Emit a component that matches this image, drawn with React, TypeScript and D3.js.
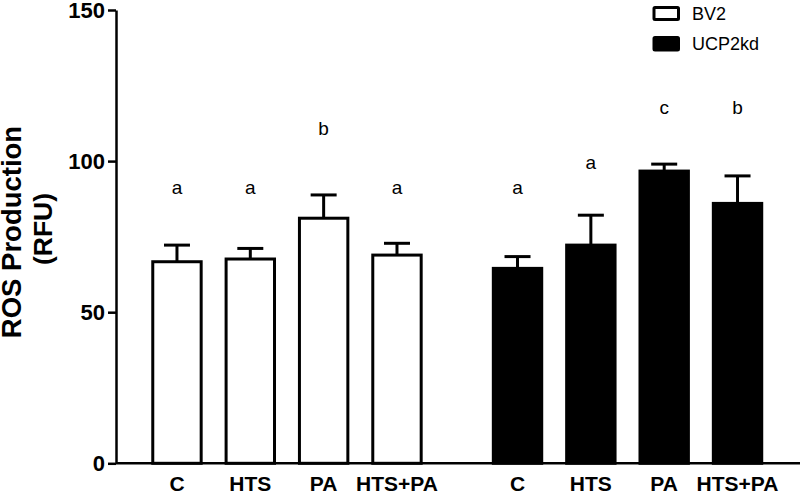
import { useEffect, useRef } from "react";
import * as d3 from "d3";

const width = 800;
const height = 491;
const marginLeft = 116;
const marginTop = 10;
const chartBottomY = 463.3;

// groups and treatments
const groups = ["BV2", "UCP2kd"];
const treatments = ["C", "HTS", "PA", "HTS+PA"];

// mean values (RFU) and upper error
const bv2Mean = [66.7, 67.6, 81.1, 68.9];
const bv2Err = [5.5, 3.5, 7.7, 3.9];
const ucpMean = [64.5, 72.2, 96.7, 86.0];
const ucpErr = [3.9, 9.9, 2.3, 9.1];

// significance letters and where they sit (in RFU)
const bv2Letters = ["a", "a", "b", "a"];
const bv2LetterY = [89, 89, 108.6, 89];
const ucpLetters = ["a", "a", "c", "b"];
const ucpLetterY = [89, 97.4, 115.7, 115.7];

const yTicks = [0, 50, 100, 150];

const font = "'Liberation Sans', Arial, Helvetica, sans-serif";

const series = [
  { group: groups[0], mean: bv2Mean, err: bv2Err, letters: bv2Letters, letterY: bv2LetterY, fill: "#ffffff" },
  { group: groups[1], mean: ucpMean, err: ucpErr, letters: ucpLetters, letterY: ucpLetterY, fill: "#000000" },
];

const App = () => {
  const yAxisRef = useRef<SVGGElement>(null);

  const xOuter = d3.scaleBand().domain(groups).range([140.3, 774.2]).paddingInner(0.1386).paddingOuter(0);
  const xInner = d3
    .scaleBand()
    .domain(treatments)
    .range([0, xOuter.bandwidth()])
    .paddingInner(0.34)
    .paddingOuter(0.17);

  const yScale = d3.scaleLinear().domain([0, 150]).range([chartBottomY, marginTop]);

  useEffect(() => {
    const yAxis = d3.axisLeft(yScale).tickValues(yTicks).tickSize(8).tickSizeOuter(0).tickPadding(3);
    const g = d3.select(yAxisRef.current);
    g.call(yAxis as any);
    g.select(".domain").attr("stroke-width", 2.5);
    g.selectAll(".tick line").attr("stroke-width", 2.5);
    g.selectAll("text")
      .attr("font-size", "22px")
      .attr("font-weight", "bold")
      .attr("font-family", font)
      .attr("fill", "#000");
  }, []);

  const bw = xInner.bandwidth();

  return (
    <svg
      width={width}
      height={height}
      viewBox={`0 0 ${width} ${height}`}
      style={{ position: "absolute", left: 0, top: 0, background: "#fff" }}
      fontFamily={font}
    >
      {series.map((s) => (
        <g key={s.group} transform={`translate(${xOuter(s.group)},0)`}>
          {treatments.map((t, i) => {
            const x = xInner(t)!;
            const cx = x + bw / 2;
            const top = yScale(s.mean[i]);
            const errTop = yScale(s.mean[i] + s.err[i]);
            return (
              <g key={t}>
                <line x1={cx} x2={cx} y1={top} y2={errTop} stroke="#000" strokeWidth={3} />
                <line x1={cx - 13} x2={cx + 13} y1={errTop} y2={errTop} stroke="#000" strokeWidth={3} />
                <rect
                  x={x}
                  y={top}
                  width={bw}
                  height={chartBottomY - top}
                  fill={s.fill}
                  stroke="#000"
                  strokeWidth={3}
                />
                <text x={cx} y={yScale(s.letterY[i])} textAnchor="middle" fontSize={19}>
                  {s.letters[i]}
                </text>
                <text x={cx} y={491} textAnchor="middle" fontSize={21} fontWeight="bold">
                  {t}
                </text>
              </g>
            );
          })}
        </g>
      ))}

      {/* x axis line */}
      <line x1={marginLeft} x2={width} y1={chartBottomY} y2={chartBottomY} stroke="#000" strokeWidth={2.5} />
      <g ref={yAxisRef} transform={`translate(${marginLeft},0)`}></g>

      {/* y axis title */}
      <text
        transform="translate(21,232) rotate(-90)"
        textAnchor="middle"
        fontSize={27.5}
        fontWeight="bold"
      >
        ROS Production
      </text>
      <text transform="translate(52,229) rotate(-90)" textAnchor="middle" fontSize={26.5} fontWeight="bold">
        (RFU)
      </text>

      {/* legend */}
      <g className="legend">
        <rect x={654} y={7.5} width={24.5} height={12} fill="#fff" stroke="#000" strokeWidth={3} rx={1} />
        <text x={692} y={20} fontSize={18}>
          BV2
        </text>
        <rect x={654} y={37.5} width={24.5} height={12.5} fill="#000" stroke="#000" strokeWidth={3} rx={1} />
        <text x={692} y={50} fontSize={18}>
          UCP2kd
        </text>
      </g>
    </svg>
  );
};

export default App;
